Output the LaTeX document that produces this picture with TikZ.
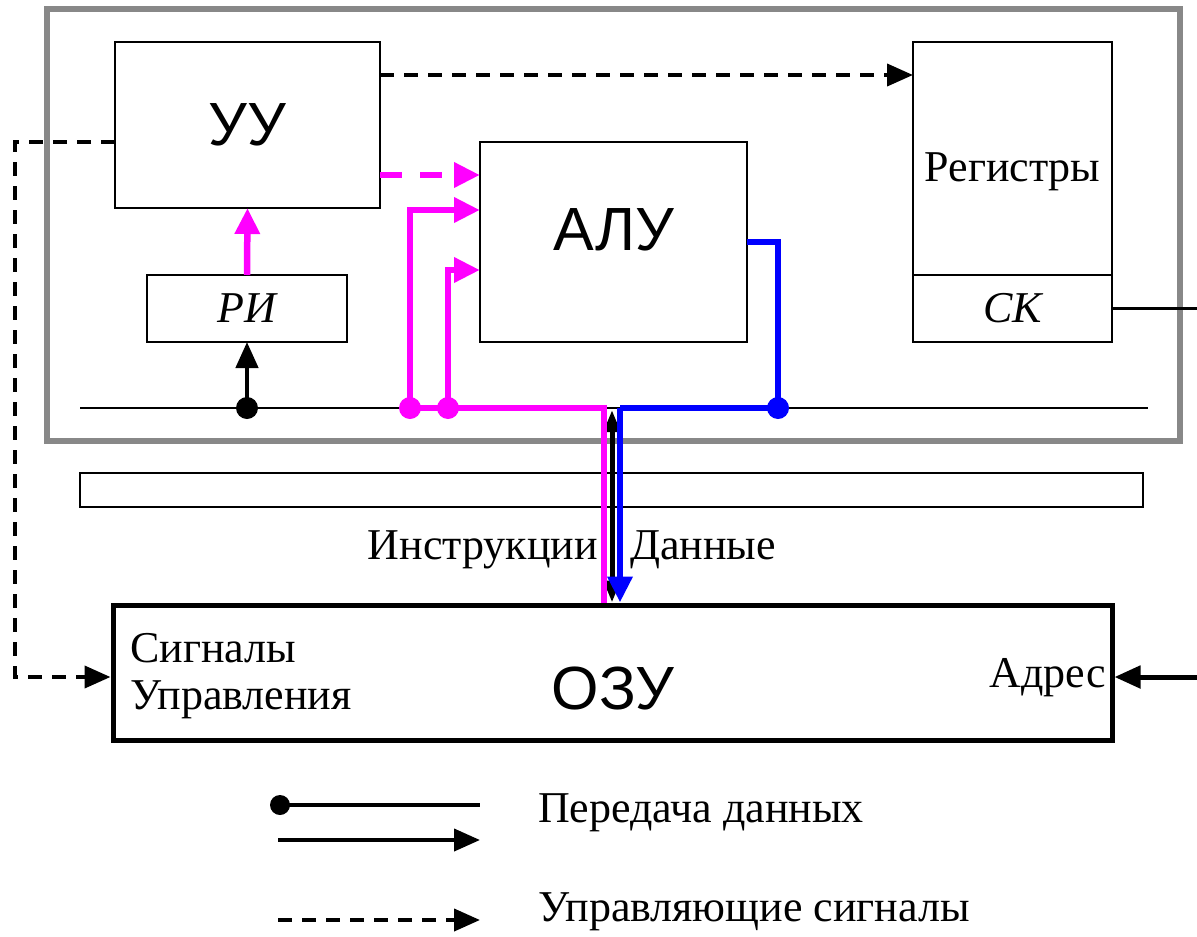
\documentclass[tikz,border=0pt]{standalone}
\usepackage{fontspec}
\setmainfont{Liberation Serif}
\newfontfamily\arialf{Liberation Sans}
\usetikzlibrary{arrows.meta,calc}
\definecolor{mag}{RGB}{255,0,255}
\definecolor{blu}{RGB}{0,0,255}
\definecolor{frm}{RGB}{136,136,136}
\begin{document}
\begin{tikzpicture}[x=1pt,y=-1pt,
 box/.style={draw,line width=2.5pt,inner sep=0,outer sep=0},
 big/.style={font=\arialf\fontsize{61}{66}\selectfont,inner sep=0},
 lbl/.style={font=\fontsize{44}{48}\selectfont,inner sep=0},
 ilbl/.style={font=\fontsize{44}{48}\selectfont\itshape,inner sep=0},
 tri/.style={-{Triangle[length=26pt,width=22pt]}},
 mtri/.style={-{Triangle[length=26pt,width=24pt]}},
 dot/.style={circle,fill,inner sep=0,minimum size=22pt},
 ctl/.style={line width=4pt,dash pattern=on 14pt off 10pt,tri},
 magl/.style={mag,line width=6.5pt},
 blul/.style={blu,line width=6.5pt},
]
\useasboundingbox (0,0) rectangle (1197,937);
% outer frame
\node[draw=frm,line width=6pt,minimum width=1133pt,minimum height=432pt,inner sep=0] (cpu) at (613.5,224.5) {};
% boxes
\node[box,minimum width=265pt,minimum height=166pt] (UU) at (247.5,125) {};
\node[big] (UUt) at (247.5,125) {УУ};
\node[box,minimum width=267pt,minimum height=200pt] (ALU) at (613.5,242) {};
\node[big] (ALUt) at (613.5,230) {АЛУ};
\node[box,minimum width=199pt,minimum height=300pt] (Reg) at (1012.5,192) {};
\node[lbl] (Regt) at (1012.5,172) {Регистры};
\node[box,minimum width=199pt,minimum height=67pt] (SK) at (1012.5,308.5) {};
\node[ilbl] (SKt) at (1012.5,308) {СК};
\node[box,minimum width=200pt,minimum height=67pt] (RI) at (247,308.5) {};
\node[ilbl] (RIt) at (247,308) {РИ};
\node[draw,line width=2pt,minimum width=1063pt,minimum height=34pt,inner sep=0] (bar) at (611.5,490) {};
\node[draw,line width=5pt,minimum width=999pt,minimum height=135pt,inner sep=0] (RAM) at (612.5,672.5) {};
\node[big] (RAMt) at (613,688) {ОЗУ};
\node[lbl,anchor=west] (sig1) at (130,648) {Сигналы};
\node[lbl,anchor=west] (sig2) at (130,700) {Управления};
\node[lbl,anchor=east] (adr) at (1106,678) {Адрес};
\node[lbl,anchor=east] (instr) at (598,550) {Инструкции};
\node[lbl,anchor=west] (data) at (630,550) {Данные};
% bus
\coordinate (busL) at (80,408);
\coordinate (busR) at (1148,408);
\draw[line width=2.5pt] (busL) -- (busR);
\coordinate (d1) at (247,408);
\coordinate (d2) at (410,408);
\coordinate (d3) at (448,408);
\coordinate (d4) at (778,408);
\coordinate (mj) at (604,408);
\coordinate (bj) at (620,408);
% RI connections
\draw[line width=4.5pt,tri] (d1) -- (RI.south);
\node[dot] (d1n) at (d1) {};
\draw[magl,mtri] (RI.north) -- (UU.south);
% control dashed
\draw[ctl] (UU.east |- 0,75) -- (Reg.west |- 0,75);
\draw[mag,line width=6.5pt,dash pattern=on 22pt off 18pt,mtri] (UU.east |- 0,175) -- (ALU.west |- 0,175);
\draw[line width=4pt,dash pattern=on 14pt off 10pt,tri] (UU.west |- 0,142) -| (15,677) -- (RAM.west |- 0,677);
% black double arrow
\draw[line width=5pt,{Triangle[length=22pt,width=16pt]}-{Triangle[length=22pt,width=16pt]}] (612,410) -- (RAM.north -| 612,0);
% magenta
\draw[magl,mtri] (d2) |- (ALU.west |- 0,210);
\draw[magl,mtri] (d3) |- (ALU.west |- 0,270);
\draw[magl] (d2) -- (mj) -- (RAM.north -| mj);
\node[dot,mag] (d2n) at (d2) {};
\node[dot,mag] (d3n) at (d3) {};
% blue
\draw[blul] (ALU.east |- 0,242) -| (d4) -- (bj);
\draw[blul,mtri] (bj) -- (RAM.north -| bj);
\node[dot,blu] (d4n) at (d4) {};
% SK out, address in
\coordinate (skout) at (1197,308.5);
\draw[line width=2.5pt] (SK.east) -- (skout);
\coordinate (adrin) at (1197,677);
\draw[line width=5pt,tri] (adrin) -- (RAM.east |- adrin);
% legend
\coordinate (l1a) at (280,805);
\coordinate (l1b) at (480,805);
\coordinate (l2a) at (278,840);
\coordinate (l2b) at (480,840);
\coordinate (l3a) at (278,920);
\coordinate (l3b) at (480,920);
\draw[line width=4pt] (l1a) -- (l1b);
\node[dot,minimum size=20pt] (l1d) at (l1a) {};
\draw[line width=4pt,tri] (l2a) -- (l2b);
\draw[ctl] (l3a) -- (l3b);
\node[lbl,anchor=west] (leg1) at (538,813) {Передача данных};
\node[lbl,anchor=west] (leg2) at (538,912) {Управляющие сигналы};
\end{tikzpicture}
\end{document}
